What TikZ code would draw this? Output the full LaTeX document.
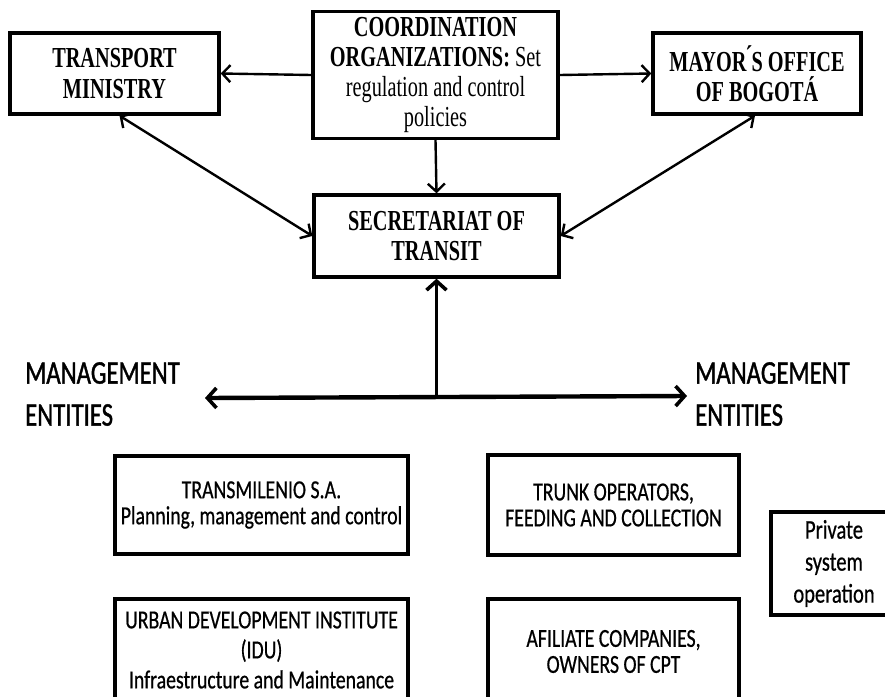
\documentclass[tikz,border=0pt]{standalone}
\usepackage{fontspec}
\newfontfamily\timesfont{Liberation Serif}[FakeStretch=0.7]
\newfontfamily\calfont{Carlito}[FakeStretch=0.76,FakeBold=0.6]
\newfontfamily\mgfont{Carlito}[FakeStretch=0.75,FakeBold=1.2]
\usetikzlibrary{arrows.meta}
\begin{document}
\begin{tikzpicture}[x=1pt,y=-1pt,
  topbox/.style={draw,line width=3.4pt,inner sep=0pt,align=center,font=\timesfont\bfseries\fontsize{29}{30.5}\selectfont},
  botbox/.style={draw,line width=3.2pt,inner sep=0pt,align=center,font=\calfont\fontsize{26}{26}\selectfont},
  mgmt/.style={inner sep=0pt,align=left,font=\mgfont\fontsize{33}{42}\selectfont},
  barb/.tip={Straight Barb[length=8pt,width=17pt,line width=2.4pt]},
  bigbarb/.tip={Straight Barb[length=9pt,width=20pt,line width=3.6pt]},
  arr/.style={line width=2.4pt,-barb},
  darr/.style={line width=2.4pt,barb-barb},
  bigarr/.style={line width=4.4pt,bigbarb-bigbarb},
  uparr/.style={line width=2.8pt,-bigbarb}]
\fill[white] (0,0) rectangle (885,696);
\useasboundingbox (0,0) rectangle (885,696);
% top row
\node[topbox,minimum width=209pt,minimum height=81pt] (T) at (114.5,73.5) {TRANSPORT\\MINISTRY};
\node[topbox,minimum width=245pt,minimum height=127pt,font=\timesfont\fontsize{29}{30}\selectfont] (C) at (435.5,75)
  {\textbf{COORDINATION}\\\textbf{ORGANIZATIONS:} Set\\regulation and control\\policies};
\node[topbox,minimum width=208pt,minimum height=81pt] (M) at (757,73.5) {MAYOR\'{}S OFFICE\\OF BOGOT\'A};
\node[topbox,minimum width=245pt,minimum height=82pt] (S) at (436.5,236) {SECRETARIAT OF\\TRANSIT};
\draw[arr] (C.west) -- (T.east);
\draw[arr] (C.east) -- (M.west);
\draw[arr] (C.south) -- (S.north);
\draw[darr] ([xshift=5pt]T.south) -- (S.west);
\draw[darr] ([xshift=-2pt]M.south) -- (S.east);
% management
\coordinate (jn) at (436.5,397);
\coordinate (ml) at (205,398);
\coordinate (mr) at (687,396);
\draw[bigarr] (ml) -- (mr);
\draw[uparr] (jn) -- (S.south);
\node[mgmt,anchor=north west] (L1) at (25,362) {MANAGEMENT\\ENTITIES};
\node[mgmt,anchor=north west] (L2) at (695,362) {MANAGEMENT\\ENTITIES};
% bottom boxes
\node[botbox,minimum width=293pt,minimum height=98pt] (TM) at (261.5,505) {TRANSMILENIO S.A.\\Planning, management and control};
\node[botbox,minimum width=251pt,minimum height=100pt] (TR) at (613.5,505) {TRUNK OPERATORS,\\FEEDING AND COLLECTION};
\node[botbox,minimum width=126pt,minimum height=103pt,font=\calfont\fontsize{27}{32}\selectfont] (P) at (834,563.5) {Private\\system\\operation};
\node[botbox,minimum width=293pt,minimum height=102pt,font=\calfont\fontsize{26}{30}\selectfont] (U) at (261.5,650) {URBAN DEVELOPMENT INSTITUTE\\(IDU)\\Infraestructure and Maintenance};
\node[botbox,minimum width=251pt,minimum height=105pt] (A) at (613.5,651.5) {AFILIATE COMPANIES,\\OWNERS OF CPT};
\end{tikzpicture}
\end{document}
